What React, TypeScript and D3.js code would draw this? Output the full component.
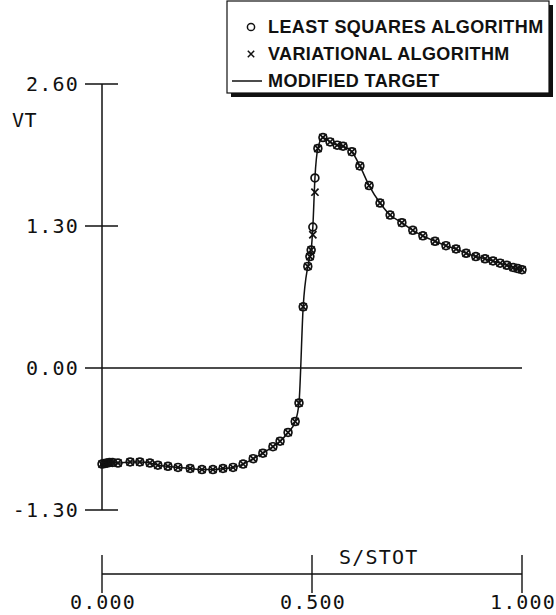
import React, { useEffect, useRef } from 'react';
import * as d3 from 'd3';

// arc length fraction along the surface
const sPts = [0, 0.006, 0.012, 0.018, 0.025, 0.038, 0.067, 0.09, 0.114, 0.133, 0.157, 0.181, 0.21, 0.238, 0.264, 0.288, 0.312, 0.336, 0.36, 0.383, 0.407, 0.424, 0.443, 0.46, 0.469, 0.479, 0.49, 0.495, 0.498, 0.502, 0.507, 0.514, 0.526, 0.543, 0.56, 0.574, 0.595, 0.614, 0.636, 0.662, 0.686, 0.714, 0.74, 0.764, 0.793, 0.819, 0.843, 0.867, 0.89, 0.912, 0.931, 0.948, 0.964, 0.979, 0.99, 1.0];
const lsqVals = [-0.88, -0.875, -0.87, -0.865, -0.865, -0.87, -0.86, -0.86, -0.87, -0.89, -0.9, -0.91, -0.92, -0.93, -0.93, -0.92, -0.91, -0.88, -0.83, -0.78, -0.72, -0.67, -0.59, -0.49, -0.32, 0.56, 0.93, 1.02, 1.08, 1.29, 1.74, 2.01, 2.11, 2.07, 2.04, 2.03, 1.98, 1.85, 1.67, 1.51, 1.4, 1.33, 1.26, 1.21, 1.16, 1.12, 1.09, 1.05, 1.02, 1.0, 0.98, 0.96, 0.94, 0.92, 0.91, 0.9];
const varVals = [-0.88, -0.875, -0.87, -0.865, -0.865, -0.87, -0.86, -0.86, -0.87, -0.89, -0.9, -0.91, -0.92, -0.93, -0.93, -0.92, -0.91, -0.88, -0.83, -0.78, -0.72, -0.67, -0.59, -0.49, -0.32, 0.56, 0.93, 1.02, 1.08, 1.22, 1.61, 2.01, 2.11, 2.07, 2.04, 2.03, 1.98, 1.85, 1.67, 1.51, 1.4, 1.33, 1.26, 1.21, 1.16, 1.12, 1.09, 1.05, 1.02, 1.0, 0.98, 0.96, 0.94, 0.92, 0.91, 0.9];
const targetVals = lsqVals;

const yTicks = [-1.3, 0, 1.3, 2.6];
const xTicks = [0, 0.5, 1.0];
const legendItems = ['LEAST SQUARES ALGORITHM', 'VARIATIONAL ALGORITHM', 'MODIFIED TARGET'];

const App: React.FC = () => {
  const svgRef = useRef<SVGSVGElement>(null);

  useEffect(() => {
    if (!svgRef.current) return;
    const svg = d3.select(svgRef.current);
    svg.selectAll('*').remove();

    const x = d3.scaleLinear().domain([0, 1]).range([102, 522]);
    const y = d3.scaleLinear().domain([-1.3, 2.6]).range([510, 84]);
    const mono = '"DejaVu Sans Mono", monospace';
    const ink = '#111';
    const fs = 20;

    // y axis
    svg.append('line')
      .attr('x1', x(0)).attr('x2', x(0))
      .attr('y1', y(2.6)).attr('y2', y(-1.3))
      .attr('stroke', ink).attr('stroke-width', 1.5);

    yTicks.forEach(t => {
      if (t !== 0) {
        svg.append('line')
          .attr('x1', x(0) - 17).attr('x2', x(0) + 16)
          .attr('y1', y(t)).attr('y2', y(t))
          .attr('stroke', ink).attr('stroke-width', 1.4);
      }
      svg.append('text')
        .attr('x', 79).attr('y', y(t))
        .attr('dy', '0.36em')
        .attr('text-anchor', 'end')
        .attr('font-family', mono)
        .attr('font-size', fs)
        .attr('letter-spacing', 1.2)
        .attr('fill', ink)
        .text(t.toFixed(2));
    });

    // zero line
    svg.append('line')
      .attr('x1', x(0) - 17).attr('x2', x(1))
      .attr('y1', y(0)).attr('y2', y(0))
      .attr('stroke', ink).attr('stroke-width', 1.3);

    svg.append('text')
      .attr('x', 12).attr('y', 120)
      .attr('dy', '0.36em')
      .attr('font-family', mono)
      .attr('font-size', fs)
      .attr('letter-spacing', 0.5)
      .attr('fill', ink)
      .text('VT');

    // x axis
    const axY = 574;
    svg.append('line')
      .attr('x1', x(0)).attr('x2', x(1))
      .attr('y1', axY).attr('y2', axY)
      .attr('stroke', ink).attr('stroke-width', 1.5);
    xTicks.forEach(t => {
      svg.append('line')
        .attr('x1', x(t)).attr('x2', x(t))
        .attr('y1', axY - 19).attr('y2', axY + 19)
        .attr('stroke', ink).attr('stroke-width', 1.4);
      svg.append('text')
        .attr('x', x(t) + 1).attr('y', 602)
        .attr('dy', '0.36em')
        .attr('text-anchor', 'middle')
        .attr('font-family', mono)
        .attr('font-size', fs)
        .attr('letter-spacing', 1.2)
        .attr('fill', ink)
        .text(t.toFixed(3));
    });
    svg.append('text')
      .attr('x', 339).attr('y', 557)
      .attr('dy', '0.36em')
      .attr('font-family', mono)
      .attr('font-size', fs)
      .attr('letter-spacing', 1.2)
      .attr('fill', ink)
      .text('S/STOT');

    // target line
    const line = d3.line<number>()
      .x((_, i) => x(sPts[i]))
      .y(d => y(d))
      .curve(d3.curveMonotoneX);
    svg.append('path')
      .attr('d', line(targetVals))
      .attr('fill', 'none')
      .attr('stroke', ink)
      .attr('stroke-width', 1.5);

    // variational markers (x)
    const c = 3.6;
    svg.append('g').selectAll('path')
      .data(varVals)
      .enter()
      .append('path')
      .attr('d', (d, i) => {
        const px = x(sPts[i]), py = y(d);
        return `M${px - c},${py - c}L${px + c},${py + c}M${px - c},${py + c}L${px + c},${py - c}`;
      })
      .attr('stroke', ink)
      .attr('stroke-width', 1.7);

    // least squares markers (o)
    svg.append('g').selectAll('circle')
      .data(lsqVals)
      .enter()
      .append('circle')
      .attr('cx', (_, i) => x(sPts[i]))
      .attr('cy', d => y(d))
      .attr('r', 3.9)
      .attr('fill', 'none')
      .attr('stroke', ink)
      .attr('stroke-width', 1.7);

    // legend
    const lg = svg.append('g');
    lg.append('rect')
      .attr('x', 231).attr('y', 5).attr('width', 322).attr('height', 92)
      .attr('fill', ink);
    lg.append('rect')
      .attr('x', 227).attr('y', 1).attr('width', 322).attr('height', 92)
      .attr('fill', '#fff').attr('stroke', ink).attr('stroke-width', 1.2);

    legendItems.forEach((label, i) => {
      const ly = 27 + i * 27;
      if (i === 0) {
        lg.append('circle').attr('cx', 251).attr('cy', ly).attr('r', 3.6)
          .attr('fill', 'none').attr('stroke', ink).attr('stroke-width', 1.5);
      } else if (i === 1) {
        lg.append('path')
          .attr('d', `M${251 - 3.2},${ly - 3.2}L${251 + 3.2},${ly + 3.2}M${251 - 3.2},${ly + 3.2}L${251 + 3.2},${ly - 3.2}`)
          .attr('stroke', ink).attr('stroke-width', 1.5);
      } else {
        lg.append('line').attr('x1', 232).attr('x2', 262).attr('y1', ly).attr('y2', ly)
          .attr('stroke', ink).attr('stroke-width', 1.5);
      }
      lg.append('text')
        .attr('x', 268).attr('y', ly)
        .attr('dy', '0.36em')
        .attr('font-family', '"Liberation Sans", Arial, sans-serif')
        .attr('font-weight', 'bold')
        .attr('font-size', 18)
        .attr('letter-spacing', 0.4)
        .attr('fill', ink)
        .text(label);
    });
  }, []);

  return (
    <svg
      ref={svgRef}
      width={556}
      height={615}
      viewBox="0 0 556 615"
      style={{ position: 'absolute', left: 0, top: 0, background: '#fff' }}
    />
  );
};

export default App;
